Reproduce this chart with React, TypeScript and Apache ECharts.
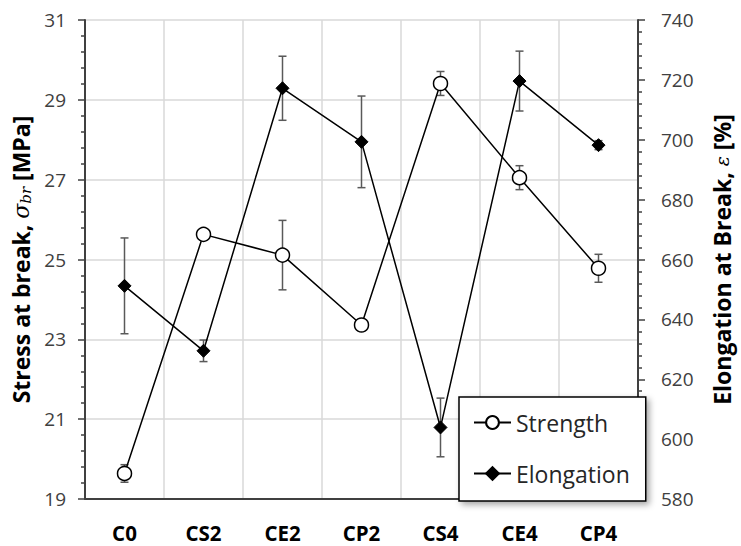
import React, { useEffect, useRef } from "react";
import * as echarts from "echarts";

const categories = ["C0", "CS2", "CE2", "CP2", "CS4", "CE4", "CP4"];
const strength = [19.64, 25.63, 25.11, 23.36, 29.41, 27.05, 24.78];
const strengthErr = [0.22, 0.12, 0.87, 0.1, 0.3, 0.3, 0.35];
const elongation = [651.2, 629.5, 717.2, 699.3, 603.9, 719.6, 698.2];
const elongationErr = [16, 3.6, 10.7, 15.3, 9.8, 10, 1.5];
const leftTicks = { min: 19, max: 31, interval: 2 };
const rightTicks = { min: 580, max: 740, interval: 20 };

const FONT = "'Open Sans', 'Noto Sans', sans-serif";

function errorSeries(name: string, values: number[], errs: number[], yAxisIndex: number) {
  return {
    name: name + " error",
    type: "custom",
    yAxisIndex,
    z: 1,
    silent: true,
    encode: { x: 0, y: 1 },
    data: values.map((v, i) => [i, v, errs[i]]),
    renderItem: (params: any, api: any) => {
      const x = api.value(0);
      const y = api.value(1);
      const e = api.value(2);
      const top = api.coord([x, y + e]);
      const bot = api.coord([x, y - e]);
      const hw = 4;
      const style = { stroke: "#595959", lineWidth: 1.5 };
      return {
        type: "group",
        children: [
          { type: "line", shape: { x1: top[0], y1: top[1], x2: bot[0], y2: bot[1] }, style },
          { type: "line", shape: { x1: top[0] - hw, y1: top[1], x2: top[0] + hw, y2: top[1] }, style },
          { type: "line", shape: { x1: bot[0] - hw, y1: bot[1], x2: bot[0] + hw, y2: bot[1] }, style },
        ],
      };
    },
  };
}

export default function App() {
  const ref = useRef<HTMLDivElement>(null);
  useEffect(() => {
    if (!ref.current) return;
    const chart = echarts.init(ref.current, undefined, { renderer: "svg" });
    const axisLine = { show: true, lineStyle: { color: "#404040", width: 2 } };
    chart.setOption({
      animation: false,
      backgroundColor: "#ffffff",
      grid: { left: 85, right: 93, top: 20, bottom: 47, containLabel: false },
      legend: {
        orient: "vertical",
        left: 459,
        top: 397,
        padding: [14, 16, 16, 14],
        itemGap: 28,
        itemWidth: 37,
        itemHeight: 16,
        backgroundColor: "#ffffff",
        borderColor: "#000000",
        borderWidth: 1.5,
        borderRadius: 0,
        shadowBlur: 6,
        shadowColor: "rgba(0,0,0,0.35)",
        shadowOffsetX: 3,
        shadowOffsetY: 3,
        data: ["Strength", "Elongation"],
        textStyle: { fontFamily: FONT, fontSize: 23, color: "#262626" },
      },
      xAxis: {
        type: "category",
        data: categories,
        boundaryGap: true,
        axisLine,
        axisTick: { show: false },
        axisLabel: { fontFamily: FONT, fontSize: 20.5, fontWeight: "bold", color: "#000", margin: 23 },
        splitLine: { show: true, lineStyle: { color: "#d9d9d9", width: 1.5 } },
      },
      yAxis: [
        {
          type: "value",
          position: "left",
          min: leftTicks.min,
          max: leftTicks.max,
          interval: leftTicks.interval,
          axisLine,
          axisTick: { show: true, length: 7, lineStyle: { color: "#404040", width: 1.5 } },
          minorTick: { show: true, splitNumber: 5, length: 4, lineStyle: { color: "#404040", width: 1.5 } },
          axisLabel: { fontFamily: FONT, fontSize: 19, color: "#404040", margin: 19 },
          splitLine: { show: true, lineStyle: { color: "#d9d9d9", width: 1.5 } },
          name: "{b|Stress at break, }{i|σ}{s|br}{b| [MPa]}",
          nameLocation: "middle",
          nameGap: 50,
          nameTextStyle: {
            rich: {
              b: { fontFamily: FONT, fontSize: 23, fontWeight: "bold", color: "#000" },
              i: { fontFamily: "'DejaVu Serif', serif", fontStyle: "italic", fontSize: 22, color: "#000" },
              s: { fontFamily: "'DejaVu Serif', serif", fontStyle: "italic", fontSize: 15, color: "#000", padding: [9, 0, 0, 0] },
            },
          },
        },
        {
          type: "value",
          position: "right",
          min: rightTicks.min,
          max: rightTicks.max,
          interval: rightTicks.interval,
          axisLine,
          axisTick: { show: true, length: 7, lineStyle: { color: "#404040", width: 1.5 } },
          minorTick: { show: true, splitNumber: 5, length: 4, lineStyle: { color: "#404040", width: 1.5 } },
          axisLabel: { fontFamily: FONT, fontSize: 19, color: "#404040", margin: 23 },
          splitLine: { show: false },
          name: "{b|Elongation at Break, }{i|ε}{b| [%]}",
          nameLocation: "middle",
          nameGap: 72,
          nameTextStyle: {
            rich: {
              b: { fontFamily: FONT, fontSize: 23, fontWeight: "bold", color: "#000" },
              i: { fontFamily: "'DejaVu Serif', serif", fontStyle: "italic", fontSize: 19, color: "#000" },
            },
          },
        },
      ],
      series: [
        errorSeries("Strength", strength, strengthErr, 0),
        errorSeries("Elongation", elongation, elongationErr, 1),
        {
          name: "Strength",
          type: "line",
          yAxisIndex: 0,
          z: 3,
          data: strength,
          symbol: "circle",
          symbolSize: 14,
          showAllSymbol: true,
          lineStyle: { color: "#000", width: 1.5 },
          itemStyle: { color: "#ffffff", borderColor: "#000", borderWidth: 1.5 },
        },
        {
          name: "Elongation",
          type: "line",
          yAxisIndex: 1,
          z: 3,
          data: elongation,
          symbol: "diamond",
          symbolSize: 13,
          showAllSymbol: true,
          lineStyle: { color: "#000", width: 1.5 },
          itemStyle: { color: "#000", borderColor: "#000", borderWidth: 1 },
        },
      ],
    });
    return () => chart.dispose();
  }, []);
  return (
    <div
      ref={ref}
      style={{ position: "fixed", left: 0, top: 0, width: 741, height: 546, background: "#fff" }}
    />
  );
}
